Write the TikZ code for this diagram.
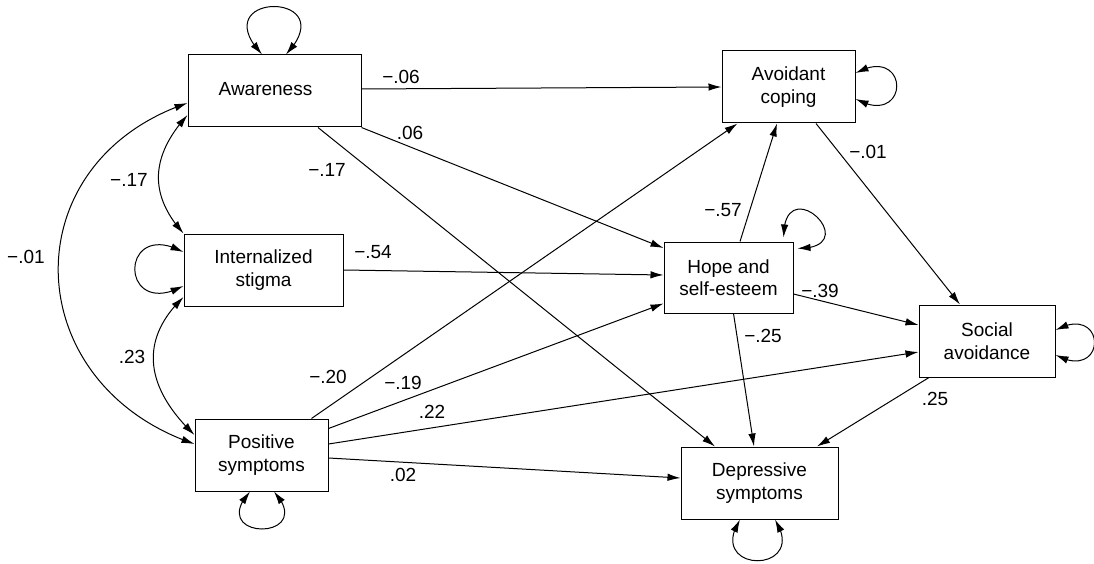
\documentclass[tikz,border=0pt]{standalone}
\usepackage{fontspec}
\setmainfont{Liberation Sans}
\usetikzlibrary{arrows.meta,bending}

\begin{document}
\begin{tikzpicture}[x=1pt, y=-1pt,
    var/.style={rectangle, draw, line width=1pt, minimum height=72pt, inner sep=2pt, align=center, font=\fontsize{19}{22.5}\selectfont},
    coef/.style={inner sep=0pt, font=\fontsize{19}{22.5}\selectfont},
    arrow/.style={line width=1pt, -{Latex[length=13pt,width=7.5pt]}},
    dbl/.style={line width=1pt, {Latex[length=13pt,width=7.5pt]}-{Latex[length=13pt,width=7.5pt]}}]

    \useasboundingbox (0,0) rectangle (1094,564);

    % Nodes
    \node [var, minimum width=173pt] (aware) at (274.5,91) {\raisebox{4pt}{Awareness}\hspace{18pt}};
    \node [var, minimum width=159pt] (stigma) at (263.5,270) {Internalized\\stigma};
    \node [var, minimum width=133pt] (posit) at (261.5,455) {Positive\\symptoms};
    \node [var, minimum width=133pt] (avoid) at (788.5,87) {Avoidant\\coping};
    \node [var, minimum width=129pt, minimum height=71pt] (hope) at (728.5,277.5) {Hope and\\self-esteem};
    \node [var, minimum width=136pt] (social) at (987,341) {Social\\avoidance};
    \node [var, minimum width=157pt] (depr) at (759.5,483) {Depressive\\symptoms};

    % Arrows
    \draw [arrow] ([yshift=2pt]aware.east) -- (avoid.west);
    \draw [arrow] (aware.south east) -- ([yshift=29.5pt]hope.west);
    \draw [arrow] ([xshift=43.5pt]aware.south) -- ([xshift=-44.5pt]depr.north);
    \draw [arrow] (stigma.east) -- ([yshift=2.5pt]hope.west);
    \draw [arrow] ([xshift=50pt]posit.north) -- ([xshift=-51pt]avoid.south);
    \draw [arrow] ([yshift=-10pt]posit.north east) -- ([yshift=10pt]hope.south west);
    \draw [arrow] ([yshift=11pt]posit.east) -- ([yshift=-11pt]social.west);
    \draw [arrow] ([yshift=-3pt]posit.east) -- ([yshift=5pt]depr.west);
    \draw [arrow] ([xshift=11.5pt]hope.north) -- ([xshift=-11.5pt]avoid.south);
    \draw [arrow] ([yshift=-16.5pt]hope.east) -- ([yshift=16pt]social.west);
    \draw [arrow] ([xshift=5pt]hope.south) -- ([xshift=-5.5pt]depr.north);
    \draw [arrow] ([xshift=27.5pt]avoid.south) -- ([xshift=-27pt]social.north);
    \draw [arrow] ([xshift=-58pt]social.south) -- ([xshift=57.5pt]depr.north);

    % Correlations
    \draw [dbl] ([yshift=-24pt]aware.west) .. controls +(-36,40) and +(-36,-40) .. (stigma.north west);
    \draw [dbl] ([yshift=-27pt]stigma.west) .. controls +(-47,45) and +(-47,-45) .. ([yshift=20pt]posit.west);
    \draw [dbl] ([yshift=-12pt]aware.west) .. controls +(-177,60) and +(-177,-60) .. ([yshift=11pt]posit.west);

    % Variances
    \draw [dbl] ([xshift=-12.5pt]aware.north) .. controls +(-60,-64) and +(60,-64) .. ([xshift=11.5pt]aware.north);
    \draw [dbl] ([yshift=18pt]stigma.west) .. controls +(-65,-35) and +(-65,35) .. ([yshift=-16pt]stigma.west);
    \draw [dbl] ([xshift=-11.5pt]posit.south) .. controls +(-45,50) and +(45,50) .. ([xshift=12.5pt]posit.south);
    \draw [dbl] ([yshift=14pt]avoid.east) .. controls +(55,-30) and +(55,30) .. ([yshift=-12pt]avoid.east);
    \draw [dbl] ([xshift=-10pt,yshift=4pt]hope.north east) .. controls +(0,-70) and +(70,0) .. ([xshift=4pt,yshift=-7pt]hope.north east);
    \draw [dbl] ([yshift=11pt]social.east) .. controls +(52,-28) and +(52,28) .. ([yshift=-14pt]social.east);
    \draw [dbl] ([xshift=-19.5pt]depr.south) .. controls +(-35,55) and +(35,55) .. ([xshift=15.5pt]depr.south);

    % Coefficients
    \node [coef] (c-aw-av) at (401,77) {−.06};
    \node [coef] (c-aw-ho) at (410,133) {.06};
    \node [coef] (c-aw-de) at (327,170) {−.17};
    \node [coef] (c-aw-st) at (129,180) {−.17};
    \node [coef] (c-aw-po) at (26,257) {−.01};
    \node [coef] (c-st-po) at (132,357) {.23};
    \node [coef] (c-st-ho) at (373,252) {−.54};
    \node [coef] (c-po-av) at (328,377) {−.20};
    \node [coef] (c-po-ho) at (403,383) {−.19};
    \node [coef] (c-po-so) at (432,412) {.22};
    \node [coef] (c-po-de) at (403,475) {.02};
    \node [coef] (c-ho-av) at (723,210) {−.57};
    \node [coef] (c-av-so) at (868,152) {−.01};
    \node [coef] (c-ho-so) at (820,291) {−.39};
    \node [coef] (c-ho-de) at (763,336) {−.25};
    \node [coef] (c-so-de) at (935,399) {.25};

\end{tikzpicture}
\end{document}
